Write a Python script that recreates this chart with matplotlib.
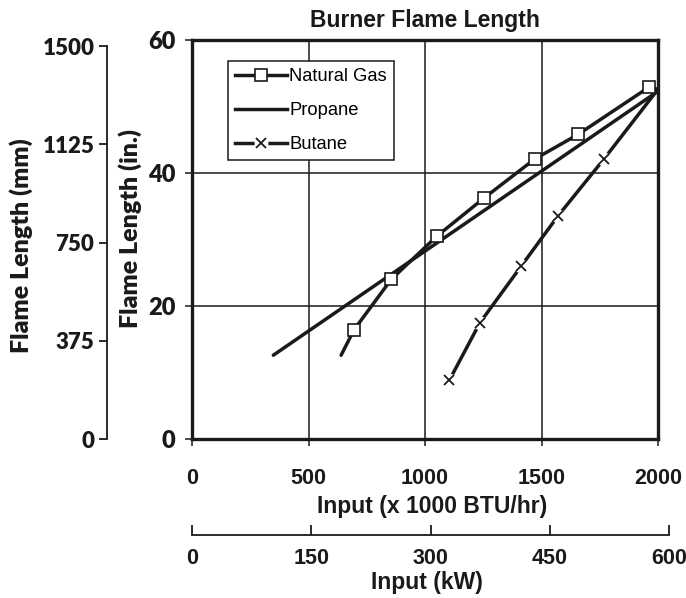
import matplotlib
matplotlib.use("Agg")
import matplotlib.pyplot as plt
from matplotlib.lines import Line2D
from matplotlib.legend_handler import HandlerTuple

# Burner input (x 1000 BTU/hr) vs flame length (in.)
ng_input = [640, 695, 855, 1051, 1252, 1471, 1657, 1961, 2000]
ng_length = [12.6, 16.4, 24.0, 30.5, 36.2, 42.1, 45.8, 52.9, 52.6]
ng_marked = [1, 2, 3, 4, 5, 6, 7]

propane_input = [349, 2000]
propane_length = [12.6, 52.3]

butane_input = [1104, 1236, 1413, 1572, 1768, 2000]
butane_length = [8.8, 17.5, 26.0, 33.6, 42.1, 52.6]
butane_marked = [0, 1, 2, 3, 4]

x_ticks = [0, 500, 1000, 1500, 2000]
y_ticks = [0, 20, 40, 60]
mm_ticks = [0, 375, 750, 1125, 1500]
kw_ticks = [0, 150, 300, 450, 600]

BTU_PER_KW = 3.41214   # x 1000 BTU/hr per kW
MM_PER_IN = 25.4

W, H = 686, 598
fig = plt.figure(figsize=(W / 100, H / 100), dpi=100)

ax_l, ax_r, ax_t, ax_b = 192, 658, 40, 439
ax = fig.add_axes([ax_l / W, 1 - ax_b / H, (ax_r - ax_l) / W, (ax_b - ax_t) / H])

helv = ["Liberation Sans", "DejaVu Sans"]
gill = ["Lato", "DejaVu Sans"]
ink = "#1a1a1a"
lab_fs = 16.5
tick_fs = 15.5
gill_tick_fs = 16
gill_lab_fs = 18

ax.plot(propane_input, propane_length, color=ink, lw=2.5, solid_capstyle="round",
        zorder=3)
ax.plot(ng_input, ng_length, color=ink, lw=2.5, solid_capstyle="round",
        marker="s", markevery=ng_marked, markersize=8.5, markerfacecolor="white",
        markeredgecolor=ink, markeredgewidth=1.2, zorder=4)
ax.plot(butane_input, butane_length, color=ink, lw=2.5, solid_capstyle="round",
        zorder=3)
bx = [butane_input[i] for i in butane_marked]
by = [butane_length[i] for i in butane_marked]
ax.plot(bx, by, ls="none", marker="o", markersize=10, markerfacecolor="white",
        markeredgecolor="none", zorder=4)
ax.plot(bx, by, ls="none", marker="x", markersize=6.5, markeredgecolor=ink,
        markeredgewidth=1.3, zorder=5)

ax.set_xlim(0, 2000)
ax.set_ylim(0, 60)
ax.set_xticks(x_ticks)
ax.set_yticks(y_ticks)
ax.grid(True, color=ink, lw=1.1, zorder=1)
for s in ax.spines.values():
    s.set_linewidth(2.4)
    s.set_color(ink)
    s.set_zorder(6)
ax.tick_params(axis="x", direction="out", length=5, width=1.1, pad=16, colors=ink)
ax.tick_params(axis="y", direction="out", length=5, width=1.1, pad=7, colors=ink)
for t in ax.get_xticklabels():
    t.set_fontfamily(helv)
    t.set_fontweight("bold")
    t.set_fontsize(tick_fs)
for t in ax.get_yticklabels():
    t.set_fontfamily(gill)
    t.set_fontweight("heavy")
    t.set_fontsize(gill_tick_fs + 1)
ax.set_xlabel("Input (x 1000 BTU/hr)", fontfamily=helv, fontweight="bold",
              fontsize=lab_fs, color=ink)
ax.xaxis.set_label_coords((432 - ax_l) / (ax_r - ax_l), -(507 - ax_b) / (ax_b - ax_t),
                          transform=ax.transAxes)
ax.xaxis.label.set_va("center")
ax.set_ylabel("Flame Length (in.)", fontfamily=gill, fontweight="heavy",
              fontsize=gill_lab_fs, color=ink)
ax.yaxis.set_label_coords(-(ax_l - 130) / (ax_r - ax_l), (ax_b - 228) / (ax_b - ax_t),
                          transform=ax.transAxes)
ax.yaxis.label.set_va("center")
ax.set_title("Burner Flame Length", fontfamily=helv, fontweight="bold",
             fontsize=lab_fs, pad=9, color=ink)

# legend
h_ng = Line2D([], [], color=ink, lw=2.5, marker="s", markersize=8.5,
              markerfacecolor="white", markeredgecolor=ink, markeredgewidth=1.2)
h_pr = Line2D([], [], color=ink, lw=2.5)
h_bu = (Line2D([], [], color=ink, lw=2.5),
        Line2D([], [], ls="none", marker="o", markersize=10,
               markerfacecolor="white", markeredgecolor="none"),
        Line2D([], [], ls="none", marker="x", markersize=6.5,
               markeredgecolor=ink, markeredgewidth=1.3))
leg = ax.legend([h_ng, h_pr, h_bu], ["Natural Gas", "Propane", "Butane"],
                handler_map={tuple: HandlerTuple(ndivide=1)},
                loc="upper left",
                bbox_to_anchor=((228 - ax_l) / (ax_r - ax_l), (ax_b - 61) / (ax_b - ax_t)),
                borderaxespad=0, fancybox=False,
                framealpha=1, edgecolor=ink, numpoints=1, handlelength=2.8,
                handletextpad=0.15, labelspacing=0.92, borderpad=0.4,
                prop={"family": helv, "size": 13.2})
leg.get_frame().set_linewidth(1.1)
leg.set_zorder(7)

# secondary length axis in millimetres
mm_x = 107
ax_mm = fig.add_axes([mm_x / W, 1 - ax_b / H, 0.001, (ax_b - ax_t) / H])
ax_mm.set_ylim(0, 60 * MM_PER_IN)
ax_mm.set_xticks([])
ax_mm.set_yticks(mm_ticks)
ax_mm.patch.set_visible(False)
for k in ["top", "right", "bottom"]:
    ax_mm.spines[k].set_visible(False)
ax_mm.spines["left"].set_linewidth(1.3)
ax_mm.spines["left"].set_color(ink)
ax_mm.spines["left"].set_bounds(0, 1500)
ax_mm.tick_params(axis="y", direction="out", length=6, width=1.3, pad=3, colors=ink)
for t in ax_mm.get_yticklabels():
    t.set_fontfamily(gill)
    t.set_fontweight("heavy")
    t.set_fontsize(gill_tick_fs)
ax_mm.set_ylabel("Flame Length (mm)", fontfamily=gill, fontweight="heavy",
                 fontsize=gill_lab_fs, color=ink)
ax_mm.yaxis.set_label_coords(21 / W, 1 - 246 / H, transform=fig.transFigure)
ax_mm.yaxis.label.set_va("center")

# secondary input axis in kW
kw_y = 535
kw_right = ax_l + 600 * BTU_PER_KW * (ax_r - ax_l) / 2000
ax_kw = fig.add_axes([ax_l / W, 1 - kw_y / H, (kw_right - ax_l) / W, 0.001])
ax_kw.set_xlim(0, 600)
ax_kw.set_yticks([])
ax_kw.set_xticks(kw_ticks)
ax_kw.patch.set_visible(False)
for k in ["top", "right", "left"]:
    ax_kw.spines[k].set_visible(False)
ax_kw.spines["bottom"].set_linewidth(1.3)
ax_kw.spines["bottom"].set_color(ink)
ax_kw.tick_params(axis="x", direction="in", length=7, width=1.3, pad=9, colors=ink)
for t in ax_kw.get_xticklabels():
    t.set_fontfamily(helv)
    t.set_fontweight("bold")
    t.set_fontsize(tick_fs)
ax_kw.set_xlabel("Input (kW)", fontfamily=helv, fontweight="bold",
                 fontsize=lab_fs, color=ink)
ax_kw.xaxis.set_label_coords(427 / W, 1 - 582 / H, transform=fig.transFigure)
ax_kw.xaxis.label.set_va("center")

fig.savefig("out.png", dpi=100)
